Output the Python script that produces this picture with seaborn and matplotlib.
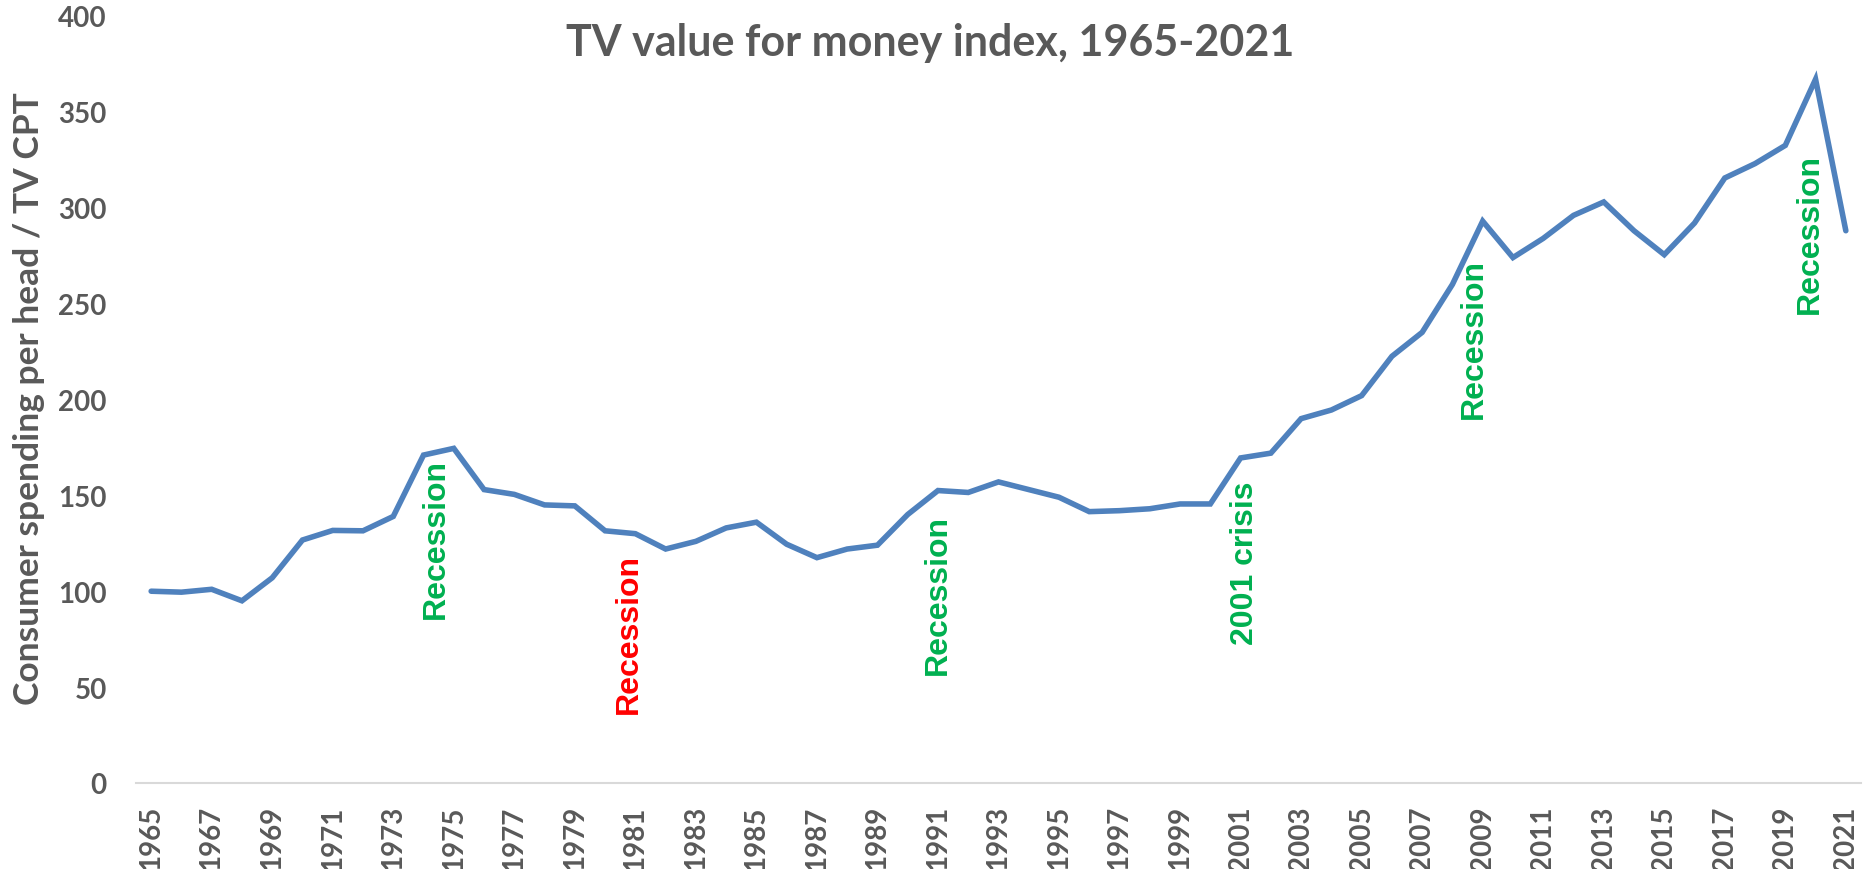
import matplotlib
matplotlib.use("Agg")
import matplotlib.pyplot as plt
import seaborn as sns
import pandas as pd

# TV value for money index, 1965-2021
years = list(range(1965, 2022))
index_values = [
    100, 99.5, 101, 95, 107, 126.7, 131.7, 131.5, 139, 171,
    174.5, 153, 150.5, 145, 144.5, 131.5, 130, 122, 126, 133,
    136, 124.5, 117.5, 122, 124, 140, 152.5, 151.5, 157, 153,
    149, 141.5, 142, 143, 145.5, 145.5, 169.5, 172, 190, 194.5,
    202, 222.5, 235, 260, 293, 274, 284, 296, 303, 288,
    275.5, 292, 315.5, 323, 332.5, 367, 288,
]

# annotations
note_labels = ["Recession", "Recession", "Recession", "2001 crisis", "Recession", "Recession"]
note_years = [1974.4, 1980.8, 1991.0, 2001.15, 2008.7, 2019.8]
note_levels = [127.6, 78, 98.6, 115, 232, 287]
note_colors = ["#00B050", "#FF0000", "#00B050", "#00B050", "#00B050", "#00B050"]

df = pd.DataFrame({"year": years, "index": index_values})

sns.set_style("white")
grey = "#595959"

fig = plt.figure(figsize=(18.66, 8.70), dpi=100)
ax = fig.add_axes([0.0729, 0.0989, 0.9244, 0.8816])

sns.lineplot(data=df, x="year", y="index", ax=ax, color="#4F81BD",
             linewidth=4, solid_joinstyle="miter")

for lab, yr, lv, col in zip(note_labels, note_years, note_levels, note_colors):
    ax.text(yr, lv, lab, rotation=90, ha="center", va="center", color=col,
            fontsize=23, fontweight="bold", family="Liberation Sans")

ax.set_xlim(1964.5, 2021.5)
ax.set_ylim(0, 400)
ax.set_yticks(range(0, 401, 50))
ax.set_xticks(years[::2])
ax.set_xticklabels([str(y) for y in years[::2]], rotation=90)
for lab in ax.get_xticklabels() + ax.get_yticklabels():
    lab.set_fontsize(20)
    lab.set_fontweight("bold")
    lab.set_color(grey)
    lab.set_family("Lato")
ax.tick_params(axis="x", length=0, pad=16)
ax.tick_params(axis="y", length=0, pad=21)

ax.set_xlabel("")
ax.set_ylabel("")
for s in ["top", "right", "left"]:
    ax.spines[s].set_visible(False)
ax.spines["bottom"].set_color("#D9D9D9")
ax.spines["bottom"].set_linewidth(1.5)

fig.text(0.4987, 0.9356, "TV value for money index, 1965-2021", ha="center", va="baseline",
         fontsize=31, fontweight="bold", color=grey, family="Lato")
fig.text(0.0153, 0.5414, "Consumer spending per head / TV CPT", rotation=90,
         ha="center", va="center", fontsize=25.5, fontweight="bold", color=grey, family="Lato")

fig.savefig("out.png", dpi=100, facecolor="white")
